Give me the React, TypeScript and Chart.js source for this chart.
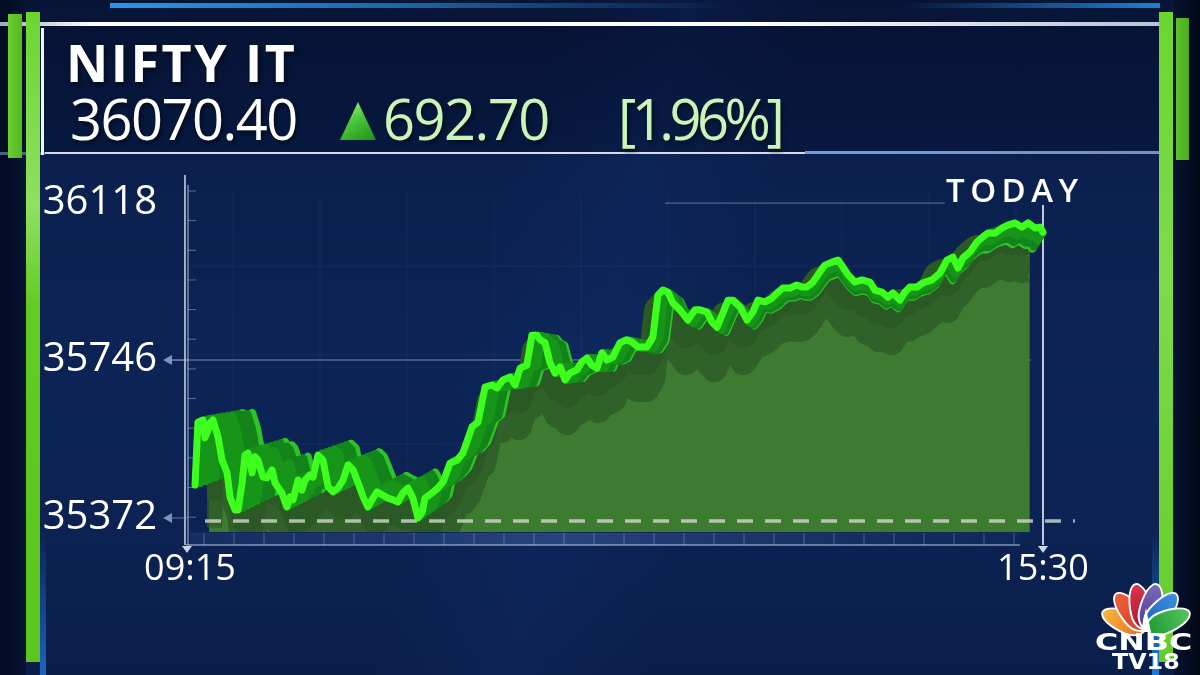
import React, { useEffect, useRef } from 'react';
import { Chart, registerables } from 'chart.js';

Chart.register(...registerables);

// ---------------- DATA ----------------
const title = 'NIFTY IT';
const lastPrice = '36070.40';
const change = '692.70';
const changePct = '[1.96%]';
const periodLabel = 'TODAY';

// minutes after 09:15
const minutes = [
  2.2, 3.5, 5.7, 6.6, 7.9, 8.8, 10.1, 12.3, 14.1, 16.3, 17.6, 19.8, 21.1, 22.9, 24.2, 25.5, 27.3, 28.6, 29.9, 32.1,
  33.9, 36.1, 37.4, 40.4, 42.6, 44.0, 45.3, 47.5, 49.2, 50.6, 52.8, 54.1, 56.3, 58.5, 60.7, 62.9, 65.1, 67.3, 69.5, 71.7,
  73.9, 76.1, 78.2, 80.0, 82.2, 84.4, 87.0, 89.2, 91.4, 93.6, 95.8, 98.0, 100.2, 102.0, 103.3, 106.4, 109.0, 111.2, 112.1, 114.3,
  117.4, 120.0, 124.0, 126.6, 129.7, 132.8, 135.0, 137.6, 140.7, 142.9, 145.1, 148.1, 150.3, 152.5, 153.9, 156.1, 158.3, 160.5, 162.7, 164.9,
  167.0, 170.1, 172.3, 174.5, 176.7, 178.9, 181.1, 183.3, 185.9, 189.0, 191.7, 194.3, 196.9, 200.9, 203.5, 205.7, 207.9, 210.1, 212.3, 215.4,
  218.9, 222.0, 224.2, 227.3, 229.5, 231.7, 234.3, 236.5, 238.7, 241.8, 244.9, 247.5, 249.7, 252.8, 255.9, 258.1, 260.7, 263.8, 266.8, 269.0,
  271.2, 273.9, 276.9, 279.1, 282.2, 284.9, 287.1, 289.3, 292.3, 295.4, 298.9, 301.1, 304.2, 306.8, 309.0, 312.1, 314.3, 316.5, 319.6, 322.2,
  326.2, 329.7, 332.8, 335.4, 337.6, 339.8, 342.9, 346.0, 348.6, 350.8, 353.9, 357.0, 359.6, 362.7, 365.7, 368.4, 371.5, 373.7, 375,
];

const values = [
  35450, 35599, 35604, 35562, 35580, 35597, 35604, 35564, 35509, 35479, 35422, 35391, 35391, 35455, 35521, 35526, 35479, 35517, 35509, 35469,
  35467, 35486, 35455, 35431, 35398, 35422, 35415, 35462, 35438, 35462, 35474, 35469, 35521, 35509, 35446, 35434, 35443, 35462, 35498, 35486,
  35455, 35422, 35398, 35415, 35434, 35427, 35419, 35415, 35410, 35431, 35443, 35419, 35372, 35384, 35419, 35431, 35443, 35457, 35469, 35502,
  35509, 35526, 35588, 35599, 35682, 35687, 35680, 35699, 35706, 35687, 35727, 35734, 35805, 35805, 35794, 35787, 35739, 35715, 35730, 35699,
  35715, 35723, 35742, 35751, 35734, 35727, 35763, 35746, 35753, 35787, 35794, 35789, 35777, 35777, 35801, 35900, 35912, 35907, 35881, 35865,
  35841, 35865, 35865, 35860, 35836, 35824, 35858, 35888, 35888, 35872, 35841, 35860, 35888, 35884, 35893, 35905, 35917, 35917, 35924, 35919,
  35919, 35931, 35955, 35971, 35978, 35983, 35966, 35948, 35931, 35936, 35931, 35912, 35907, 35895, 35905, 35888, 35907, 35919, 35919, 35929,
  35936, 35952, 35983, 35990, 35964, 35988, 36002, 36026, 36038, 36047, 36047, 36059, 36066, 36071, 36061, 36071, 36059, 36061, 36049,
];

const yTicks = [35372, 35746, 36118];
const xTicks = [0, 375];
const xTickLabels = ['09:15', '15:30'];
const dashedLevel = 35365;
const dashedSpan = [6.6, 389];

// ---------------- LAYOUT ----------------
const L = 190, R = 1043, T = 175, B = 545;
const X_MIN = 0, X_MAX = 375, Y_MIN = 35308, Y_MAX = 36184.5;
const FONT = "'Open Sans', 'Noto Sans', sans-serif";

function xAxisFor(a: number, b: number) {
  const W = R - L;
  const vAt = (p: number) => X_MIN + ((p - L) / W) * (X_MAX - X_MIN);
  return { type: 'linear', axis: 'x', display: false, min: vAt((L - b) / a), max: vAt((R - b) / a) };
}
function yAxisFor(c: number, d: number) {
  const H = B - T;
  const vAt = (p: number) => Y_MIN + ((B - p) / H) * (Y_MAX - Y_MIN);
  return { type: 'linear', axis: 'y', display: false, min: vAt((B - d) / c), max: vAt((T - d) / c) };
}
function valAtPixY(ax: any, p: number) {
  return ax.min + ((B - p) / (B - T)) * (ax.max - ax.min);
}

const makePts = () => minutes.map((m, i) => ({ x: m, y: values[i] }));

const decorPlugin = {
  id: 'decor',
  beforeDatasetsDraw(chart: any) {
    const { ctx, chartArea: a, scales } = chart;
    const y = scales.y, x = scales.x;
    const line = (x1: number, y1: number, x2: number, y2: number) => {
      ctx.beginPath(); ctx.moveTo(x1, y1); ctx.lineTo(x2, y2); ctx.stroke();
    };
    ctx.save();
    ctx.strokeStyle = 'rgba(130,160,220,0.08)';
    ctx.lineWidth = 1;
    for (let px = a.left + 43; px < a.right - 10; px += 87) line(px, a.top + 20, px, a.bottom - 12);
    for (let py = a.bottom - 12; py > a.top + 20; py -= 89) line(a.left, py, a.right - 12, py);
    const ym = y.getPixelForValue(yTicks[1]);
    ctx.strokeStyle = 'rgba(205,215,240,0.38)';
    ctx.lineWidth = 1.5;
    line(a.left - 18, ym, a.right - 12, ym);
    const yt = y.getPixelForValue(yTicks[2]);
    ctx.strokeStyle = 'rgba(170,185,215,0.55)';
    ctx.lineWidth = 1;
    line(665, yt, 945, yt);
    const g = ctx.createLinearGradient(a.left, 0, a.left + 830, 0);
    g.addColorStop(0, 'rgba(90,130,210,0.12)');
    g.addColorStop(0.45, 'rgba(120,160,235,0.25)');
    g.addColorStop(1, 'rgba(90,130,210,0.05)');
    ctx.fillStyle = g;
    ctx.fillRect(a.left, a.bottom - 12, 830, 12);
    ctx.strokeStyle = 'rgba(180,200,240,0.35)';
    ctx.lineWidth = 1;
    for (let px = a.left + 14; px < a.left + 830; px += 30) line(px, a.bottom - 12, px, a.bottom);
    ctx.strokeStyle = 'rgba(210,220,240,0.6)';
    ctx.lineWidth = 1.5;
    line(a.left - 4, a.bottom, a.left + 830, a.bottom);
    ctx.strokeStyle = 'rgba(235,240,250,0.9)';
    ctx.lineWidth = 1.5;
    line(a.left - 5, a.top, a.left - 5, a.bottom);
    ctx.strokeStyle = 'rgba(200,210,235,0.6)';
    line(a.left - 2, a.top + 10, a.left - 2, a.bottom);
    ctx.strokeStyle = 'rgba(190,200,230,0.45)';
    ctx.lineWidth = 1;
    for (let py = a.top + 16; py < a.bottom - 20; py += 29.65) line(a.left - 2, py, a.left + 6, py);
    const xr = x.getPixelForValue(xTicks[1]);
    ctx.strokeStyle = 'rgba(225,230,245,0.85)';
    ctx.lineWidth = 2;
    line(xr, a.top + 30, xr, a.bottom);
    ctx.restore();
  },
  afterDraw(chart: any) {
    const { ctx, chartArea: a, scales } = chart;
    const y = scales.y, x = scales.x;
    ctx.save();
    ctx.fillStyle = 'rgba(140,158,195,0.9)';
    ctx.strokeStyle = 'rgba(140,158,195,0.7)';
    ctx.lineWidth = 1;
    [yTicks[0], yTicks[1]].forEach((v) => {
      const py = y.getPixelForValue(v);
      ctx.beginPath();
      ctx.moveTo(a.left - 27, py);
      ctx.lineTo(a.left - 18, py - 5);
      ctx.lineTo(a.left - 18, py + 5);
      ctx.closePath();
      ctx.fill();
      ctx.beginPath(); ctx.moveTo(a.left - 18, py); ctx.lineTo(a.left - 3, py); ctx.stroke();
    });
    ctx.fillStyle = 'rgba(215,222,238,0.95)';
    xTicks.forEach((v) => {
      const px = x.getPixelForValue(v) - (v === xTicks[0] ? 3 : 0);
      ctx.beginPath();
      ctx.moveTo(px - 5, a.bottom + 1);
      ctx.lineTo(px + 5, a.bottom + 1);
      ctx.lineTo(px, a.bottom + 8);
      ctx.closePath();
      ctx.fill();
    });
    ctx.restore();
  },
};

export default function App() {
  const ref = useRef<HTMLCanvasElement>(null);

  useEffect(() => {
    document.body.style.margin = '0';
    const common = { pointRadius: 0, tension: 0, clip: false as any, borderJoinStyle: 'round', borderCapStyle: 'round', fill: false };
    const shadowClip = { left: -17, top: 0, right: -13, bottom: -13 };

    const scales: any = {
      x: {
        type: 'linear', min: X_MIN, max: X_MAX,
        afterBuildTicks: (s: any) => { s.ticks = xTicks.map((v) => ({ value: v })); },
        afterFit: (s: any) => { s.height = 60; },
        ticks: {
          callback: (_v: any, i: number) => xTickLabels[i],
          color: '#ffffff', font: { family: FONT, size: 36, weight: '500' }, padding: 3,
          maxRotation: 0, autoSkip: false,
        },
        grid: { display: false, drawTicks: false }, border: { display: false },
      },
      y: {
        type: 'linear', min: Y_MIN, max: Y_MAX,
        afterBuildTicks: (s: any) => { s.ticks = yTicks.map((v) => ({ value: v })); },
        afterFit: (s: any) => { s.width = L; },
        ticks: {
          callback: (v: any) => String(v),
          color: '#ffffff', font: { family: FONT, size: 40, weight: '500' }, padding: 33, autoSkip: false,
        },
        grid: { display: false, drawTicks: false }, border: { display: false },
      },
    };

    scales.xo = xAxisFor(0.968, 20.2);
    scales.yo = yAxisFor(0.9, 41.5);
    scales.ys = yAxisFor(1, 15);
    scales.ys2 = yAxisFor(1, 42);

    const datasets: any[] = [];
    datasets.push({
      ...common, data: makePts(), xAxisID: 'xo', yAxisID: 'yo',
      borderWidth: 0, borderColor: 'rgba(0,0,0,0)', backgroundColor: '#3d7b31',
      fill: { value: valAtPixY(scales.yo, 532) }, order: 30,
    });
    datasets.push({
      ...common, data: makePts(), xAxisID: 'xo', yAxisID: 'ys2', clip: shadowClip,
      borderWidth: 26, borderColor: 'rgba(44,88,38,0.75)', borderCapStyle: 'butt', order: 27,
    });
    datasets.push({
      ...common, data: makePts(), xAxisID: 'xo', yAxisID: 'ys', clip: shadowClip,
      borderWidth: 26, borderColor: '#2b5926', borderCapStyle: 'butt', order: 25,
    });
    datasets.push({
      ...common, data: dashedSpan.map((m) => ({ x: m, y: dashedLevel })),
      borderWidth: 3.5, borderColor: 'rgba(200,210,195,0.85)', borderDash: [16, 12], borderCapStyle: 'butt', order: 20,
    });

    const STEPS = 8;
    const rEnd = { a: 0.94, b: 52, c: 0.875, d: 45.5 };
    for (let k = STEPS; k >= 1; k--) {
      const f = k / STEPS;
      scales['xr' + k] = xAxisFor(1 + f * (rEnd.a - 1), f * rEnd.b);
      scales['yr' + k] = yAxisFor(1 + f * (rEnd.c - 1), f * rEnd.d);
      const shade = k === STEPS ? '#2ec427' : k > 4 ? '#13841a' : '#179518';
      datasets.push({
        ...common, data: makePts(), xAxisID: 'xr' + k, yAxisID: 'yr' + k,
        borderWidth: 8, borderColor: shade, order: 2 + k,
      });
    }

    datasets.push({
      ...common, data: makePts(), borderWidth: 7, borderColor: '#3cff1e', order: 0,
    });

    const chart = new Chart(ref.current as HTMLCanvasElement, {
      type: 'line',
      data: { datasets },
      options: {
        responsive: false,
        animation: false,
        devicePixelRatio: 1,
        layout: { padding: { left: 0, top: T, right: 1200 - R, bottom: 675 - B - 60 } },
        plugins: { legend: { display: false }, tooltip: { enabled: false } },
        events: [],
        scales,
      } as any,
      plugins: [decorPlugin as any],
    });
    return () => chart.destroy();
  }, []);

  const abs = (s: React.CSSProperties): React.CSSProperties => ({ position: 'absolute', ...s });
  const petals = [
    { a: -68, c1: '#f6b73c', c2: '#ee6a23' },
    { a: -40, c1: '#f0603a', c2: '#d83a2a' },
    { a: -13, c1: '#d8354e', c2: '#b0142f' },
    { a: 13, c1: '#7a68b8', c2: '#4e3f94' },
    { a: 40, c1: '#3d8fe0', c2: '#1a62b8' },
    { a: 68, c1: '#55c25a', c2: '#1f9a3a' },
  ];

  return (
    <div
      style={abs({
        left: 0, top: 0, width: 1200, height: 675, overflow: 'hidden',
        background: 'linear-gradient(180deg, #061436 0%, #0a1f4d 22%, #0c2455 55%, #0b2252 80%, #0a1e4a 100%)',
        fontFamily: FONT,
      })}
    >
      <div style={abs({ left: 0, top: 0, width: 26, height: 675, background: 'linear-gradient(90deg,#040b22,#071433)' })} />
      <div style={abs({ left: 1174, top: 0, width: 26, height: 675, background: 'linear-gradient(90deg,#061230,#020716)' })} />
      <div style={abs({ left: 0, top: 0, width: 1200, height: 675, background: 'linear-gradient(105deg, rgba(0,0,0,0) 40%, rgba(30,70,150,0.12) 50%, rgba(0,0,0,0) 60%)' })} />
      <div style={abs({ left: 42, top: 26, width: 1118, height: 126, background: 'rgba(4,14,40,0.35)' })} />
      <div style={abs({ left: 110, top: 3, width: 620, height: 5, background: 'linear-gradient(90deg, #2a95ea, rgba(42,149,234,0.6) 50%, rgba(42,149,234,0))' })} />
      <div style={abs({ left: 900, top: 3, width: 260, height: 5, background: 'linear-gradient(90deg, rgba(42,149,234,0), #1f7fd0)' })} />
      <div style={abs({ left: 0, top: 22, width: 1160, height: 4, background: 'linear-gradient(90deg, rgba(230,236,245,0.7), #ffffff 8%, #ffffff 65%, rgba(215,225,240,0.85))' })} />
      <div style={abs({ left: 45, top: 152, width: 760, height: 2, background: 'rgba(235,240,250,0.9)' })} />
      <div style={abs({ left: 805, top: 151, width: 355, height: 3, background: 'linear-gradient(90deg, rgba(120,170,240,0.9), rgba(200,220,250,0.6))' })} />
      <div style={abs({ left: 0, top: 152, width: 45, height: 3, background: 'rgba(120,150,210,0.6)' })} />
      <div style={abs({ left: 41, top: 28, width: 3, height: 127, background: '#f2f5fb' })} />
      <div style={abs({ left: 8, top: 14, width: 14, height: 144, background: 'linear-gradient(90deg,#69cf2e,#55b824)' })} />
      <div style={abs({ left: 26, top: 12, width: 14, height: 650, background: 'linear-gradient(180deg,#6ad630 0%, #8fe060 30%, #62cc22 45%, #5cc51e 100%)' })} />
      <div style={abs({ left: 1159, top: 12, width: 14, height: 650, background: 'linear-gradient(180deg,#6ad630 0%, #7fd94c 40%, #64cc28 100%)' })} />
      <div style={abs({ left: 1176, top: 18, width: 13, height: 142, background: 'linear-gradient(90deg,#5cc22a,#4fa820)' })} />
      <div style={abs({ left: 40, top: 530, width: 6, height: 145, background: 'linear-gradient(180deg, rgba(30,100,200,0), #1c64c0)' })} />
      <div style={abs({ left: 1152, top: 530, width: 7, height: 145, background: 'linear-gradient(180deg, rgba(30,100,200,0), #1c7ad8)' })} />

      <canvas ref={ref} width={1200} height={675} style={abs({ left: 0, top: 0, width: 1200, height: 675 })} />

      <div style={abs({ left: 66, top: 36, fontSize: 52, fontWeight: 700, color: '#ffffff', lineHeight: 1, letterSpacing: 2.5, textShadow: '2px 3px 4px rgba(0,0,0,0.5)', whiteSpace: 'nowrap' })}>{title}</div>
      <div style={abs({ left: 70, top: 90, fontSize: 56, fontWeight: 500, color: '#ffffff', lineHeight: 1, letterSpacing: -1.5, textShadow: '2px 3px 4px rgba(0,0,0,0.5)', whiteSpace: 'nowrap' })}>{lastPrice}</div>
      <div style={abs({ left: 340, top: 102, width: 36, height: 38, clipPath: 'polygon(50% 0, 100% 100%, 0 100%)', background: 'linear-gradient(150deg, #b8f590 0%, #4cc83a 45%, #1f8f1c 100%)' })} />
      <div style={abs({ left: 383, top: 90, fontSize: 56, fontWeight: 500, color: '#c9f5b8', lineHeight: 1, letterSpacing: -1.5, textShadow: '2px 3px 4px rgba(0,0,0,0.5)', whiteSpace: 'nowrap' })}>{change}</div>
      <div style={abs({ left: 618, top: 90, fontSize: 56, fontWeight: 500, color: '#c9f5b8', lineHeight: 1, letterSpacing: -4.5, textShadow: '2px 3px 4px rgba(0,0,0,0.5)', whiteSpace: 'nowrap' })}>{changePct}</div>

      <div style={abs({ left: 946, top: 173, fontSize: 33, fontWeight: 600, color: '#ffffff', lineHeight: 1, letterSpacing: 5.5, whiteSpace: 'nowrap' })}>{periodLabel}</div>

      {petals.map((p, i) => (
        <div
          key={i}
          style={abs({
            left: 1146 - 12, top: 630 - 48, width: 24, height: 48,
            borderRadius: '50% 50% 50% 50% / 62% 62% 38% 38%',
            transformOrigin: '50% 100%', transform: `rotate(${p.a}deg)`,
            background: `linear-gradient(180deg, ${p.c1}, ${p.c2})`,
            border: '2px solid #ffffff', boxSizing: 'border-box',
          })}
        />
      ))}
      <div style={abs({ left: 1141, top: 608, width: 10, height: 24, background: '#ffffff', clipPath: 'polygon(50% 0, 100% 100%, 0 100%)' })} />
      <div style={abs({ left: 1095, top: 631, fontFamily: "'DejaVu Sans', sans-serif", fontSize: 23, fontWeight: 700, color: '#fff', lineHeight: 1, whiteSpace: 'nowrap', transform: 'scaleX(1.38)', transformOrigin: '0 0' })}>CNBC</div>
      <div style={abs({ left: 1112, top: 651, fontFamily: "'DejaVu Sans', sans-serif", fontSize: 22, fontWeight: 700, color: '#fff', lineHeight: 1, whiteSpace: 'nowrap', transform: 'scaleX(1.08)', transformOrigin: '0 0' })}>TV18</div>
    </div>
  );
}
